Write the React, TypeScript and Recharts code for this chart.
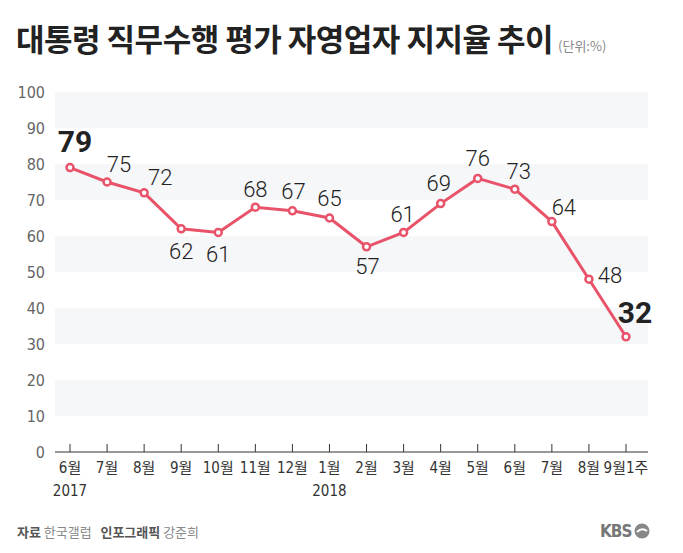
import React from 'react';
import {
  LineChart,
  Line,
  XAxis,
  YAxis,
  ReferenceArea,
  LabelList,
} from 'recharts';

const months = ['6월', '7월', '8월', '9월', '10월', '11월', '12월', '1월', '2월', '3월', '4월', '5월', '6월', '7월', '8월', '9월1주'];
const years = ['2017', '', '', '', '', '', '', '2018', '', '', '', '', '', '', '', ''];
const approval = [79, 75, 72, 62, 61, 68, 67, 65, 57, 61, 69, 76, 73, 64, 48, 32];
const yTicks = [0, 10, 20, 30, 40, 50, 60, 70, 80, 90, 100];
const bands: [number, number][] = [[90, 100], [70, 80], [50, 60], [30, 40], [10, 20]];

const data = months.map((m, i) => ({ key: i, month: m, year: years[i], value: approval[i] }));

const LINE = '#e8536a';
const NUM_FONT = "Roboto, 'Noto Sans CJK KR', sans-serif";
const NARROW = "'Liberation Sans Narrow', 'DejaVu Sans Condensed', 'Noto Sans CJK KR', sans-serif";
const PAD_L = 15;
const PAD_R = 22;

// label offsets from each point (dx, dy)
const labelOffset: [number, number][] = [
  [5, -26], [12, -18], [16, -15], [0, 23], [0, 22], [0, -18], [1, -19], [0, -20],
  [1, 20], [-1, -18], [-2, -20], [0, -20], [4, -18], [12, -14], [21, -4], [9, -24],
];
const bigLabels = new Set([0, 15]);

function ValueLabel(props: any) {
  const { x, y, index, value } = props;
  const [dx, dy] = labelOffset[index] || [0, -18];
  const big = bigLabels.has(index);
  return (
    <text
      x={x + dx}
      y={y + dy}
      textAnchor="middle"
      dominantBaseline="central"
      fill="#222"
      fontFamily={NUM_FONT}
      fontWeight={big ? 700 : 300}
      fontSize={big ? 30 : 22}
    >
      {value}
    </text>
  );
}

function MonthTick(props: any) {
  const { x, y, payload } = props;
  const d = data[payload.value];
  return (
    <g>
      <line x1={x} x2={x} y1={y - 8} y2={y} stroke="#333" strokeWidth={1} />
      <text x={x} y={y + 16} textAnchor="middle" dominantBaseline="central" fill="#333" fontSize={15} fontFamily={NARROW}>
        {d.month}
      </text>
      {d.year && (
        <text x={x} y={y + 39} textAnchor="middle" dominantBaseline="central" fill="#333" fontSize={15} fontFamily={NARROW}>
          {d.year}
        </text>
      )}
    </g>
  );
}

// stretch the band across the axis padding as well
function Band(props: any) {
  const { x, y, width, height } = props;
  return <rect x={x - PAD_L} y={y} width={width + PAD_L + PAD_R} height={height} fill="#f6f7f9" />;
}

export default function App() {
  return (
    <div style={{ position: 'relative', width: 683, height: 553, background: '#fff', fontFamily: "'Noto Sans CJK KR', sans-serif" }}>
      <style>{`body{margin:0}`}</style>
      <div style={{ position: 'absolute', left: 16, top: 15, whiteSpace: 'nowrap', color: '#222' }}>
        <span style={{ fontSize: 31, fontWeight: 700, letterSpacing: -0.5 }}>대통령 직무수행 평가 자영업자 지지율 추이</span>
        <span style={{ fontSize: 13, color: '#888', marginLeft: 5 }}>(단위:%)</span>
      </div>
      <LineChart
        width={683}
        height={553}
        data={data}
        margin={{ top: 92, right: 35, left: 0, bottom: 41 }}
      >
        {bands.map(([a, b]) => (
          <ReferenceArea key={a} y1={a} y2={b} shape={<Band />} ifOverflow="visible" />
        ))}
        <XAxis
          dataKey="key"
          type="category"
          height={60}
          padding={{ left: PAD_L, right: PAD_R }}
          axisLine={{ stroke: '#333', strokeWidth: 1 }}
          tickLine={false}
          tickSize={0}
          tickMargin={0}
          interval={0}
          tick={<MonthTick />}
        />
        <YAxis
          width={55}
          domain={[0, 100]}
          ticks={yTicks}
          axisLine={false}
          tickLine={false}
          tickSize={0}
          tickMargin={10}
          tick={{ fill: '#666', fontSize: 16, fontFamily: NARROW }}
        />
        <Line
          type="linear"
          dataKey="value"
          stroke={LINE}
          strokeWidth={3}
          dot={{ r: 3.5, fill: '#fff', stroke: LINE, strokeWidth: 2.5 }}
          activeDot={false}
          isAnimationActive={false}
        >
          <LabelList dataKey="value" content={<ValueLabel />} />
        </Line>
      </LineChart>
      <div style={{ position: 'absolute', left: 17, top: 522, fontSize: 13, color: '#888', whiteSpace: 'nowrap' }}>
        <b style={{ color: '#555' }}>자료</b> 한국갤럽 &nbsp;&nbsp;<b style={{ color: '#555' }}>인포그래픽</b> 강준희
      </div>
      <div style={{ position: 'absolute', left: 600, top: 521, display: 'flex', alignItems: 'center', gap: 2 }}>
        <span style={{ fontFamily: NARROW, fontWeight: 700, fontSize: 17, color: '#777', letterSpacing: -1 }}>KBS</span>
        <svg width={16} height={16}>
          <circle cx={8} cy={8} r={7.5} fill="#888" />
          <path d="M3 9 Q8 4 13 8" stroke="#fff" strokeWidth={2} fill="none" />
        </svg>
      </div>
    </div>
  );
}
